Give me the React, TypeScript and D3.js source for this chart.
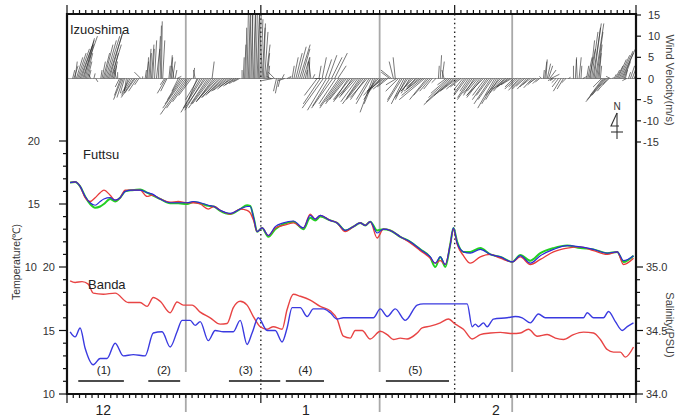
import React from "react";
import * as d3 from "d3";

// time axis: days since 1 Dec
const monthLabels = ["12", "1", "2"];
const monthLabelDays = [5.8, 38.2, 68.6];
const monthStarts = [0, 31, 62, 91];
const grayLineDays = [19, 50, 71.2];
const dottedLineDays = [31, 62];

const periodLabels = ["(1)", "(2)", "(3)", "(4)", "(5)"];
const periodStart = [1.8, 13.0, 25.9, 35.0, 51.0];
const periodEnd = [9.1, 18.1, 34.1, 41.1, 61.1];
const periodLabelDays = [5.9, 15.5, 28.6, 38.1, 55.7];

// Izuoshima wind sticks: [day, u, v] in m/s
const windObs = [
  [0.9, 0.5, 2], [1.1, 1, 3], [1.3, 0.5, 4], [1.5, 1.5, 5], [1.7, 2, 6], [1.9, 2.5, 7], [2.1, 3, 8], [2.3, 3, 9],
  [2.5, 3.5, 10], [2.7, 2.5, 9.5], [2.9, 2, 8], [3.1, 1.5, 6], [3.3, 1, 4], [3.5, 0.5, 2], [3.8, -0.5, 1], [4.3, 0.3, 1.2],
  [4.6, 0.5, -0.8], [5.4, 0.3, 2], [5.6, 0.8, 4], [5.8, 1.5, 6], [6.0, 2, 8], [6.2, 2.5, 9], [6.4, 3, 10], [6.6, 3.5, 11],
  [6.8, 3, 10.5], [7.0, 2.5, 8], [7.2, 1.5, 6], [7.4, 1, 4], [7.6, 0.5, 3], [7.9, -0.5, 2], [8.1, 0, 1.5],
  [8.4, -1, -2], [8.6, -1.5, -4], [8.8, -2, -5], [9.0, -1.5, -4.5], [9.2, -1, -3.5], [9.5, -0.5, -3], [9.8, -1, -3],
  [10.1, -2, -3.5], [10.4, -2.5, -4], [10.7, -3, -4.5], [10.9, -2.5, -3.5], [11.2, -2, -3], [11.5, -1, -1.5],
  [11.8, -1.5, 1.5], [12.1, 0, 0.5], [12.5, 0.3, 2], [12.7, 0.5, 4], [12.9, 0.2, 5], [13.1, 0.5, 7], [13.3, 0.3, 6],
  [13.5, 0.6, 8], [13.7, 0.4, 7], [14.0, 0.5, 9], [14.3, 0.8, 7], [14.6, 0.5, 10], [14.9, 0.3, 12.5], [15.1, 0.2, 13.5],
  [15.3, 0.5, 9], [15.6, -1, -1.5], [15.8, -2, -3.5], [16.0, -1.5, -3], [16.3, 0.3, 3], [16.5, 0.5, 5.5], [16.7, 0.3, 5],
  [16.9, 0.6, 4], [17.1, -0.5, 3], [17.3, 0.4, 2], [17.6, 1, 0.5], [17.8, -1.5, -3], [18.1, -3, -5], [18.4, -4, -6],
  [18.7, -5, -7], [19.0, -6, -8.5], [19.3, -5, -7], [19.6, -4, -5.5], [19.9, -3, -4], [20.2, 0.3, 2.5], [20.5, -0.4, 2],
  [20.8, -2, -5], [21.0, -3, -5], [21.3, -4, -7], [21.6, -5, -8], [21.9, -4.5, -7.5], [22.2, -5, -7], [22.5, -4, -6],
  [22.8, -5, -7], [23.1, -4.5, -6], [23.2, 0.5, 4], [23.4, -4, -5.5], [23.7, -4.5, -5.5], [24.0, -4.5, -5],
  [24.3, -4, -4.5], [24.6, -4.5, -4.5], [24.9, -4, -4], [25.2, -4, -3.5], [25.5, -3.5, -3], [25.8, -3.5, -2.8],
  [26.1, -3, -2.5], [26.4, -3, -2], [26.7, -2.5, -1.8], [27.0, -2.5, -1.5], [27.3, -2, -1.2], [27.6, -1.5, -0.8],
  [28.0, 0, 2], [28.2, 0.2, 5], [28.4, 0.3, 8], [28.6, 0.2, 12], [28.8, 0.3, 15], [29.0, 0.5, 17], [29.2, 0.3, 16],
  [29.4, 0.5, 18], [29.6, 0.2, 17], [29.8, 0.5, 16], [30.0, 0.3, 18], [30.2, 0.4, 17], [30.4, 0.6, 16], [30.6, 0.3, 15.5],
  [30.8, 0.4, 16], [31.0, 0.5, 14], [31.2, 0.7, 12], [31.4, 0.5, 13], [31.6, 0.8, 11], [31.8, 1, 8], [32.0, 0.6, 6],
  [32.2, 0.3, 3], [32.6, -1, 0.5], [32.9, -2.5, -0.5], [33.2, -1.5, 1.5], [33.5, -0.7, -3], [33.8, -0.7, -3.5],
  [34.1, -0.5, -2], [34.4, 0.5, 1], [34.8, -1.5, -0.5], [35.2, 1, 0.5], [35.6, 0.3, 0.3],
  [36.0, 0.5, 3], [36.3, 1, 5], [36.6, 1.5, 6], [36.9, 2, 7.5], [37.2, 2.5, 8], [37.5, 2, 7], [37.8, 1.5, 5], [38.1, 0.5, 2],
  [38.4, 0.3, 4], [38.7, 0.2, 5], [39.0, -0.5, 4], [39.3, 0.5, 1], [39.6, 1.5, 0],
  [40.0, -3, -4], [40.3, 0.5, 3], [40.5, -4, -6], [40.8, 1, 5], [41.0, -5, -7], [41.3, 1.5, 4.5], [41.5, -4.5, -7.5],
  [41.8, 2, 5.5], [42.0, -4, -6.5], [42.3, 2.5, 5], [42.5, -5, -7], [42.8, 3, 6], [43.0, -4, -6], [43.3, 2, 3],
  [43.5, -4.5, -6.5], [43.8, -5, -7], [44.1, -4, -5.5], [44.4, -4.5, -6], [44.7, -4, -5], [45.0, -3.5, -5.5],
  [45.3, -4, -5], [45.6, -3, -4.5], [45.9, -4.5, -5], [46.2, -3.5, -4], [46.5, -4, -5.5], [46.8, -3, -4.5],
  [47.1, -4.5, -6], [47.4, -4, -5], [47.7, -3.5, -5], [48.0, -4, -4.5], [48.3, -3, -5], [48.6, -3.5, -6],
  [48.9, -3, -8], [49.2, -2.5, -6], [49.5, -3, -5], [49.8, -3.5, -4], [50.1, -3, -3.5], [50.4, -3.5, -3],
  [50.7, -4, -3], [51.0, -3, -2.5], [51.3, -2.5, -2], [51.6, -2, 1.5], [51.9, -2.5, 2], [52.2, -1, 4], [52.5, -0.5, 5],
  [52.7, -2.5, -1.5], [53.0, -3, -3], [53.3, -3, -5], [53.6, -3.5, -5.5], [53.9, -3, -6], [54.2, -2.5, -5],
  [54.5, -3, -4.5], [54.8, -2, -3.5], [55.1, -2.5, -3], [55.4, -3, -3], [55.7, -2, -2.5], [56.0, -2.5, -2],
  [56.3, -3, -2.5], [56.6, -4, -3], [56.9, -5, -4], [57.2, -6, -5], [57.5, -4, -5], [57.8, -3.5, -4], [58.1, -2.5, -3],
  [58.4, -2, -2.5], [59.0, -1, -1], [59.4, 0.2, 3], [59.7, 0.3, 5.5], [60.0, 0.5, 4], [60.3, -0.5, 2], [60.6, -2, -1.5],
  [60.9, -4, -3.5], [61.2, -5, -4.5], [61.5, -6, -5.5], [61.8, -7, -6.2], [62.1, -5, -4], [62.4, -4, -3],
  [62.7, -3, -2.5], [63.0, -2.5, -2], [63.3, -2, -2.5], [63.6, -2.5, -3.5], [63.9, -3, -4], [64.2, -2, -3],
  [64.5, -3, -4.5], [64.8, -3.5, -5], [65.1, -2.5, -4], [65.4, -3, -3.5], [65.7, -2.5, -3], [66.0, -3, -4],
  [66.3, -3.5, -4.5], [66.6, -4, -4], [66.9, -3, -4], [67.2, -3.5, -5], [67.5, -3, -4], [67.8, -4, -6], [68.1, -3.5, -5],
  [68.4, -4, -7], [68.7, -3.5, -6], [69.0, -3, -5], [69.3, -3.5, -4], [69.6, -3, -3.5], [69.9, -2.5, -3], [70.2, -3, -2.5],
  [70.5, -2.5, -2], [70.8, -3, -2], [71.1, -2.5, -1.5], [71.4, -2, -2], [71.7, -2.5, -2.5], [72.0, -2, -2],
  [72.3, -2.5, -2.8], [72.6, -2, -2], [72.9, -2.5, -2.5], [73.2, -2, -1.8], [73.5, -2.2, -2.5], [73.8, -2, -2],
  [74.1, -1.8, -1.5], [74.4, -2, -2.2], [74.7, -1.5, -1.5], [75.0, -1.5, -1], [75.3, -1.2, -1.2], [75.6, -1, -0.8],
  [75.9, -0.5, 0.5], [76.2, 0.2, 2], [76.4, 0.5, 4], [76.6, 0.3, 4.5], [76.8, 0.8, 3.5], [77.0, 1, 3], [77.2, 1.5, 2],
  [77.4, 2, 1], [77.6, -1, -0.5], [77.8, -0.8, -0.5], [78.2, -1, -1], [78.6, -1.5, -2], [79.0, -1.8, -3],
  [79.4, -1.5, -2.5], [79.8, -1, -1], [80.2, 0.5, 0.3], [81.0, 0, 3], [81.3, 0.3, 5], [81.6, -0.2, 4.5], [81.9, 0.5, 5],
  [82.2, 0.2, 3], [82.5, 1, 0.5], [83.1, 0.5, 3], [83.3, 1, 5], [83.5, 1.5, 7], [83.7, 1, 9], [83.9, 1.5, 11],
  [84.1, 2, 13], [84.3, 1.5, 12], [84.5, 2, 13], [84.7, 1.5, 11], [84.9, 1, 8], [85.1, 0.5, 6], [85.3, 0.3, 3],
  [85.5, -2, -2], [85.7, -3, -4], [85.9, -4, -5], [86.1, -4.6, -5.5], [86.3, -3.5, -4], [86.5, -2.5, -3],
  [86.7, -1.5, -1.5], [86.9, -1, 0.5], [87.2, 0.3, 0.3], [87.5, 0.5, 1], [87.7, 1, 2], [87.9, 1.5, 3], [88.1, 2, 4.5],
  [88.3, 2.5, 5.5], [88.5, 3, 6.5], [88.7, 3.5, 7.5], [88.9, 2.5, 6], [89.1, 1.5, 4], [89.3, 0.5, 2], [89.5, -1, -0.5],
  [89.8, 0.5, 1.5], [90.1, 1, 3], [90.4, 1.5, 4], [90.7, 3, 7], [90.9, 0.5, 3],
];

// Futtsu temperature (three sensors)
const futtsuDay = [0.5, 1.3, 2.1, 2.9, 3.7, 4.5, 5.3, 5.9, 6.9, 7.7, 8.5, 9.3, 10.4, 11.7, 12.8, 13.6, 14.9, 16.5, 17.8, 19.2,
  20.2, 21.3, 22.6, 23.5, 24.5, 26.1, 27.7, 28.8, 29.3, 29.9, 30.4, 31.2, 32.2, 33.3, 34.6, 36.2, 37.8, 38.9, 39.7, 40.5,
  42.1, 43.2, 44.5, 45.8, 46.9, 47.7, 48.5, 49.6, 50.6, 51.7, 53.3, 54.9, 56.5, 58.1, 58.9, 59.7, 60.5, 61.3, 61.8, 62.4,
  63.4, 64.5, 66.1, 67.7, 69.3, 71.2, 72.5, 74.1, 75.7, 77.8, 80.0, 82.1, 84.2, 86.4, 88.0, 89.0, 90.6];
const futtsuGreen = [16.7, 16.75, 16.4, 15.6, 15.0, 14.7, 14.8, 15.0, 15.4, 15.2, 15.5, 16.0, 16.1, 16.15, 15.9, 15.7, 15.4, 15.05, 15.05, 15.0,
  15.15, 15.05, 14.85, 14.8, 14.45, 14.2, 14.6, 14.9, 14.85, 13.8, 12.8, 13.1, 12.4, 13.0, 13.4, 13.6, 13.0, 13.9, 13.7, 14.0,
  13.7, 13.5, 12.9, 13.2, 13.5, 13.3, 13.6, 12.9, 13.0, 12.9, 12.4, 12.0, 11.4, 10.75, 10.0, 10.8, 10.0, 11.8, 13.1, 12.0,
  11.2, 11.2, 11.5, 11.0, 10.8, 10.4, 10.95, 10.5, 11.1, 11.5, 11.7, 11.5, 11.4, 11.1, 11.2, 10.4, 10.9];
const futtsuBlue = [16.7, 16.75, 16.4, 15.6, 15.1, 14.9, 15.2, 15.4, 15.5, 15.3, 15.5, 16.0, 16.1, 16.1, 15.9, 15.8, 15.4, 15.1, 15.1, 15.1,
  15.2, 15.1, 14.9, 14.8, 14.5, 14.25, 14.6, 14.8, 14.8, 13.8, 12.8, 13.1, 12.5, 13.2, 13.5, 13.65, 13.1, 14.1, 13.8, 14.1,
  13.7, 13.5, 12.9, 13.2, 13.5, 13.3, 13.6, 12.7, 13.0, 12.9, 12.4, 12.0, 11.4, 10.8, 10.3, 10.8, 10.2, 11.8, 13.1, 11.9,
  11.2, 11.1, 11.4, 11.0, 10.8, 10.4, 10.9, 10.3, 10.9, 11.4, 11.7, 11.6, 11.4, 11.1, 11.2, 10.5, 10.9];
const futtsuRed = [16.7, 16.75, 16.4, 15.5, 15.2, 15.5, 15.9, 16.1, 15.7, 15.3, 15.5, 16.1, 16.1, 16.1, 15.6, 15.7, 15.4, 15.15, 15.2, 15.1,
  15.1, 15.0, 14.6, 14.8, 14.5, 14.2, 14.6, 14.5, 14.3, 13.6, 12.8, 13.1, 12.5, 13.1, 13.3, 13.5, 13.1, 14.2, 13.8, 14.1,
  13.7, 13.5, 12.8, 13.2, 13.5, 13.3, 13.6, 12.3, 13.0, 12.9, 12.4, 11.9, 11.3, 10.7, 10.3, 10.5, 10.2, 11.8, 13.0, 11.8,
  10.9, 10.3, 10.8, 11.0, 10.7, 10.4, 10.8, 10.2, 10.6, 11.2, 11.5, 11.6, 11.3, 11.0, 11.2, 10.2, 10.7];

// Banda temperature (red, left axis)
const bandaTempDay = [0.5, 1.3, 2.4, 3.4, 4.2, 5.8, 7.7, 9.8, 11.7, 12.8, 13.8, 14.9, 16.5, 17.6, 18.6, 20.0, 21.3, 22.9, 24.5, 25.6,
  26.6, 27.7, 28.8, 29.8, 30.9, 32.0, 33.0, 34.4, 35.2, 36.2, 37.3, 38.9, 40.5, 42.1, 43.2, 44.2, 45.3, 46.1, 47.2, 48.5,
  50.1, 51.2, 52.2, 53.3, 54.4, 56.0, 56.8, 58.1, 59.7, 61.0, 62.1, 63.4, 64.8, 66.1, 67.7, 69.3, 71.2, 72.5, 73.8, 75.2,
  76.8, 78.1, 79.4, 81.0, 82.6, 84.2, 85.3, 86.4, 87.4, 88.5, 89.3, 90.6];
const bandaTemp = [18.91, 18.78, 18.85, 18.65, 17.94, 17.86, 17.94, 17.2, 17.2, 16.9, 17.6, 17.3, 16.4, 17.25, 17.0, 17.0, 16.45, 16.0, 15.5, 15.55,
  16.8, 17.3, 17.0, 16.1, 15.3, 15.1, 15.3, 15.1, 16.65, 17.85, 17.7, 17.4, 16.9, 16.55, 15.9, 14.55, 14.4, 15.0, 15.0, 14.33,
  14.94, 14.68, 14.29, 14.4, 14.33, 14.8, 15.2, 15.34, 15.6, 15.9, 15.5, 15.1, 14.33, 14.68, 14.8, 14.85, 14.76, 14.8, 15.1, 14.55,
  14.68, 14.4, 14.29, 14.68, 14.87, 14.8, 14.29, 13.5, 13.3, 13.3, 12.9, 13.7];

// Banda salinity (blue, right axis)
const bandaSalDay = [0.5, 1.3, 2.1, 2.9, 4.2, 5.3, 6.4, 7.7, 9.0, 10.6, 12.5, 13.8, 15.2, 16.5, 17.6, 18.4, 19.7, 20.5, 21.3, 22.6,
  23.7, 25.0, 26.6, 27.7, 28.8, 29.6, 30.6, 32.0, 33.3, 34.4, 35.2, 36.0, 37.3, 38.4, 39.4, 41.0, 42.1, 43.2, 44.2, 49.0,
  50.1, 51.2, 52.5, 54.1, 56.0, 57.0, 64.0, 64.8, 65.3, 65.8, 66.6, 67.2, 68.2, 70.4, 71.7, 72.8, 74.1, 75.4, 76.5, 82.6,
  83.2, 84.2, 85.8, 86.6, 87.7, 88.8, 89.6, 90.6];
const bandaSal = [34.49, 34.45, 34.52, 34.36, 34.23, 34.28, 34.28, 34.40, 34.30, 34.31, 34.30, 34.48, 34.49, 34.37, 34.49, 34.58, 34.58, 34.54, 34.57, 34.42,
  34.50, 34.49, 34.49, 34.58, 34.39, 34.48, 34.6, 34.50, 34.50, 34.41, 34.52, 34.68, 34.68, 34.61, 34.67, 34.67, 34.64, 34.59, 34.6, 34.6,
  34.67, 34.61, 34.67, 34.58, 34.70, 34.71, 34.71, 34.53, 34.55, 34.53, 34.56, 34.53, 34.59, 34.6, 34.61, 34.6, 34.56, 34.63, 34.6, 34.6,
  34.64, 34.6, 34.6, 34.65, 34.57, 34.5, 34.53, 34.56];

const windTicks = [-15, -10, -5, 0, 5, 10, 15];

const L = 67, R = 636, T = 14, B = 394;
const x = d3.scaleLinear().domain([0, 91]).range([L, R]);
const yWind = d3.scaleLinear().domain([-15, 15]).range([142, 15]);
const yFuttsu = d3.scaleLinear().domain([10, 20]).range([267, 141]);
const yBanda = d3.scaleLinear().domain([10, 20]).range([394, 267]);
const ySal = d3.scaleLinear().domain([34, 35]).range([394, 267]);

const font = "'Liberation Sans', Arial, sans-serif";

function pathFor(days: number[], vals: number[], y: d3.ScaleLinear<number, number>) {
  const pts = days.map((d, i) => [d, vals[i]] as [number, number]);
  return d3.line<[number, number]>()
    .x(d => x(d[0]))
    .y(d => y(d[1]))
    .curve(d3.curveMonotoneX)(pts) || "";
}

export default function App() {
  const k = yWind(0) - yWind(1);
  const w0 = yWind(0);
  const dayTicks = d3.range(0, 92);

  return (
    <svg width={690} height={418} style={{ position: "absolute", left: 0, top: 0, background: "#fff" }}
      fontFamily={font}>
      <defs>
        <clipPath id="plotClip">
          <rect x={L} y={T} width={R - L} height={B - T} />
        </clipPath>
      </defs>

      {/* gray week markers */}
      {grayLineDays.map((d, i) => (
        <g key={"g" + i} stroke="#a9a9a9" strokeWidth={1.8}>
          <line x1={x(d)} x2={x(d)} y1={T} y2={372} />
          <line x1={x(d)} x2={x(d)} y1={B} y2={412} />
        </g>
      ))}
      {/* month boundaries */}
      {dottedLineDays.map((d, i) => (
        <line key={"d" + i} x1={x(d)} x2={x(d)} y1={T} y2={B} stroke="#222" strokeWidth={1.4}
          strokeDasharray="1.4,3" />
      ))}

      {/* wind sticks */}
      <g clipPath="url(#plotClip)">
        <line x1={L} x2={R} y1={w0} y2={w0} stroke="#999" strokeWidth={1} />
        {windObs.map((o, i) => (
          <line key={"w" + i} x1={x(o[0])} y1={w0} x2={x(o[0]) + o[1] * k} y2={w0 - o[2] * k}
            stroke="#2a2a2a" strokeWidth={0.8} strokeOpacity={0.8} />
        ))}
      </g>

      {/* Futtsu */}
      <g fill="none" clipPath="url(#plotClip)">
        <path d={pathFor(futtsuDay, futtsuGreen, yFuttsu)} stroke="#22d022" strokeWidth={2} />
        <path d={pathFor(futtsuDay, futtsuRed, yFuttsu)} stroke="#e83a3a" strokeWidth={1.3} />
        <path d={pathFor(futtsuDay, futtsuBlue, yFuttsu)} stroke="#2a2ad8" strokeWidth={1.2} />
      </g>

      {/* Banda */}
      <g fill="none" clipPath="url(#plotClip)">
        <path d={pathFor(bandaTempDay, bandaTemp, yBanda)} stroke="#e84444" strokeWidth={1.4} />
        <path d={pathFor(bandaSalDay, bandaSal, ySal)} stroke="#3a3ae0" strokeWidth={1.4} />
      </g>

      {/* period bars */}
      {periodLabels.map((p, i) => (
        <g key={"p" + i}>
          <line x1={x(periodStart[i])} x2={x(periodEnd[i])} y1={381} y2={381} stroke="#111" strokeWidth={1.6} />
          <text x={x(periodLabelDays[i])} y={374} fontSize={11.5} textAnchor="middle" fill="#222">{p}</text>
        </g>
      ))}

      {/* frame */}
      <g stroke="#111" strokeWidth={2.2} fill="none">
        <line x1={L} x2={R} y1={T} y2={T} />
        <line x1={L} x2={R} y1={B} y2={B} />
        <line x1={L} x2={L} y1={T - 1} y2={B + 1} />
        <line x1={R} x2={R} y1={T - 1} y2={B + 1} />
      </g>

      {/* time ticks top & bottom */}
      <g stroke="#111" strokeWidth={1.2}>
        {dayTicks.map(d => {
          const major = monthStarts.includes(d);
          const len = major ? 9 : 4;
          return (
            <g key={"t" + d}>
              <line x1={x(d)} x2={x(d)} y1={B} y2={B + len} />
              <line x1={x(d)} x2={x(d)} y1={T} y2={T - len} />
            </g>
          );
        })}
      </g>
      {monthLabels.map((m, i) => (
        <text key={"m" + i} x={x(monthLabelDays[i])} y={415} fontSize={14} textAnchor="middle" fill="#222">{m}</text>
      ))}

      {/* left temperature ticks */}
      <g stroke="#111" strokeWidth={1.2}>
        {d3.range(10, 21).map(v => (
          <line key={"lf" + v} x1={L} x2={L - (v % 5 === 0 ? 8 : 4)} y1={yFuttsu(v)} y2={yFuttsu(v)} />
        ))}
        {d3.range(10, 20).map(v => (
          <line key={"lb" + v} x1={L} x2={L - (v % 5 === 0 ? 8 : 4)} y1={yBanda(v)} y2={yBanda(v)} />
        ))}
      </g>
      <g fontSize={11} fill="#333">
        {[15, 20].map(v => (
          <text key={"lft" + v} x={40} y={yFuttsu(v) + 4} textAnchor="end">{v}</text>
        ))}
        <text x={37} y={yFuttsu(10) + 4} textAnchor="end">10</text>
        {[10, 15, 20].map(v => (
          <text key={"lbt" + v} x={55} y={yBanda(v) + 4} textAnchor="end">{v}</text>
        ))}
      </g>

      {/* right wind ticks */}
      <g stroke="#111" strokeWidth={1.2}>
        {windTicks.map(v => (
          <line key={"rw" + v} x1={R} x2={R + 5} y1={yWind(v)} y2={yWind(v)} />
        ))}
        {d3.range(0, 11).map(i => (
          <line key={"rs" + i} x1={R} x2={R + (i % 5 === 0 ? 7 : 4)} y1={ySal(34 + i / 10)} y2={ySal(34 + i / 10)} />
        ))}
      </g>
      <g fontSize={11} fill="#333">
        {windTicks.map(v => (
          <text key={"rwt" + v} x={v < 0 ? 643 : 648} y={yWind(v) + 4}>{v}</text>
        ))}
        {[34, 34.5, 35].map(v => (
          <text key={"rst" + v} x={646} y={ySal(v) + 4}>{v.toFixed(1)}</text>
        ))}
      </g>

      {/* axis titles */}
      <text transform="translate(20,262) rotate(-90)" fontSize={10.5} textAnchor="middle" fill="#333">Temperature(℃)</text>
      <text transform="translate(666,80) rotate(90)" fontSize={11} textAnchor="middle" fill="#444">Wind Velocity(m/s)</text>
      <text transform="translate(666,325) rotate(90)" fontSize={11} textAnchor="middle" fill="#444">Salinity(PSU)</text>

      {/* station labels */}
      <text x={70} y={34} fontSize={13} fill="#222">Izuoshima</text>
      <text x={83} y={159} fontSize={13} fill="#222">Futtsu</text>
      <text x={88} y={289} fontSize={13} fill="#222">Banda</text>

      {/* north arrow */}
      <text x={617} y={110} fontSize={10} textAnchor="middle" fill="#333">N</text>
      <g stroke="#333" strokeWidth={1.1} fill="none">
        <line x1={617} x2={617} y1={113} y2={139} />
        <polyline points="617,113 611,126 619,126" />
        <line x1={611} x2={623} y1={132} y2={132} />
      </g>
    </svg>
  );
}
